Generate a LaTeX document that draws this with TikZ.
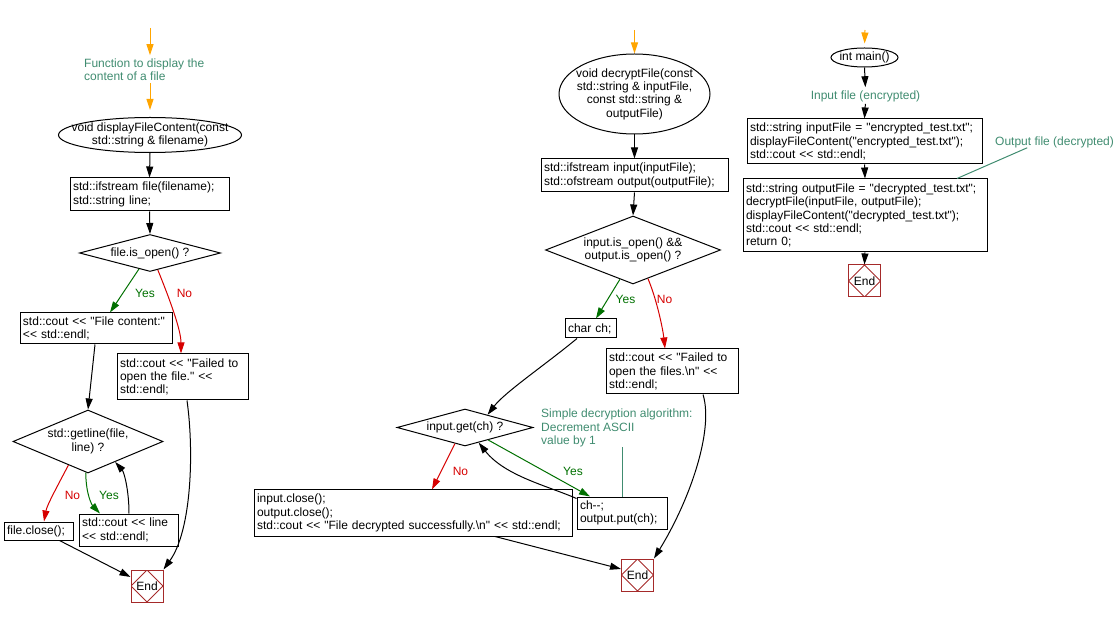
\documentclass[tikz,border=0pt]{standalone}
\usepackage{fontspec}
\newfontfamily\cfont{Liberation Sans}
\usetikzlibrary{shapes.geometric,arrows.meta,calc}
\definecolor{notec}{RGB}{64,140,112}
\definecolor{yesc}{RGB}{0,112,0}
\definecolor{noc}{RGB}{214,0,0}
\definecolor{orc}{RGB}{255,165,0}
\definecolor{endc}{RGB}{165,42,42}
\begin{document}
\begin{tikzpicture}[x=1pt,y=-1pt,
  every node/.style={font=\cfont\fontsize{12}{13.3}\selectfont, inner sep=0pt},
  box/.style={draw, line width=1pt, inner xsep=3pt, inner ysep=0pt, align=left},
  ell/.style={draw, ellipse, line width=1pt, inner sep=0pt},
  dia/.style={draw, diamond, line width=1pt, inner sep=0pt},
  lbl/.style={align=center},
  note/.style={text=notec, align=left},
  endbox/.style={draw=endc, line width=1pt, minimum width=32pt, minimum height=32pt,
    path picture={\draw[endc, line width=0.8pt] (path picture bounding box.north) -- (path picture bounding box.east) -- (path picture bounding box.south) -- (path picture bounding box.west) -- cycle;}},
  flow/.style={draw=black, line width=1pt, -{Triangle[length=11pt,width=7pt]}},
  startarrow/.style={draw=orc, line width=1pt, -{Triangle[length=11pt,width=7pt]}},
  yes/.style={flow, draw=yesc},
  no/.style={flow, draw=noc},
  noteline/.style={draw=notec, line width=1pt},
  yesl/.style={text=yesc},
  nol/.style={text=noc},
]
\useasboundingbox (0,0) rectangle (1117,617);

%% ---------------- left column ----------------
\coordinate (a1) at (150,28);
\node[note, anchor=west] (n1) at (84,69.5) {Function to display the\\content of a file};
\node[ell, minimum width=183pt, minimum height=35pt] (e1) at (150,135) {};
\node[lbl] (e1t) at (e1) {void displayFileContent(const\\std::string \& filename)};
\node[box, text width=153pt, minimum height=33pt] (b1) at (149.5,194.5) {std::ifstream file(filename);\\std::string line;};
\node[dia, minimum width=141pt, minimum height=37pt] (d1) at (150,253) {};
\node[lbl] (d1t) at (d1) {file.is\_open() ?};
\node[box, text width=146pt, minimum height=31pt] (b2) at (96,328.5) {std::cout << "File content:"\\<< std::endl;};
\node[box, text width=125pt, minimum height=46pt] (b3) at (182.5,377) {std::cout << "Failed to\\open the file." <<\\std::endl;};
\node[dia, minimum width=150pt, minimum height=63pt] (d2) at (88,441.5) {};
\node[lbl] (d2t) at (d2) {std::getline(file,\\line) ?};
\node[box, text width=63pt, minimum height=18pt] (b4) at (38.5,531) {file.close();};
\node[box, text width=93pt, minimum height=32pt] (b5) at (128.5,530) {std::cout << line\\<< std::endl;};
\node[endbox] (end1) at (147,586) {End};

\node[yesl] (ly1) at (145,293) {Yes};
\node[nol] (ln1) at (184.5,293) {No};
\node[nol] (ln2) at (72.5,495) {No};
\node[yesl] (ly2) at (109,495) {Yes};

\draw[startarrow, shorten >=3pt] (a1) -- (a1 |- n1.north);
\draw[startarrow, shorten <=2pt, shorten >=7pt] (a1 |- n1.south) -- (e1.north);
\draw[flow] (e1.south) -- (b1.north);
\draw[flow] (b1.south) -- (d1.north);
\draw[yes] ($(d1.south)!0.156!(d1.west)$) -- ([xshift=14pt]b2.north);
\draw[no] ($(d1.south)!0.11!(d1.east)$) .. controls (170,300) and (181,330) .. ([xshift=-1.5pt]b3.north);
\draw[flow] ([xshift=-1pt]b2.south) -- (d2.north);
\draw[no] ($(d2.south)!0.26!(d2.west)$) .. controls (58,485) and (47,505) .. ([xshift=5.5pt]b4.north);
\draw[yes] ($(d2.south)!0.03!(d2.west)$) .. controls (86,495) and (92,505) .. ([xshift=-28.5pt]b5.north);
\draw[flow] ([xshift=0.5pt]b5.north) .. controls (129,490) and (124,472) .. ($(d2.south)!0.36!(d2.east)$);
\draw[flow] ([xshift=-14pt]b4.south east) -- ([yshift=9pt]end1.west);
\draw[flow] ([xshift=4.5pt]b3.south) .. controls (194,450) and (192,530) .. (end1.north east);

%% ---------------- middle column ----------------
\coordinate (a2) at (634.5,30);
\node[ell, minimum width=151pt, minimum height=80pt] (e2) at (634.5,94) {};
\node[lbl] (e2t) at (e2) {void decryptFile(const\\std::string \& inputFile,\\const std::string \&\\outputFile)};
\node[box, text width=181pt, minimum height=33pt] (b6) at (634.5,175.5) {std::ifstream input(inputFile);\\std::ofstream output(outputFile);};
\node[dia, minimum width=175pt, minimum height=68pt] (d3) at (633,250) {};
\node[lbl] (d3t) at (d3) {input.is\_open() \&\&\\output.is\_open() ?};
\node[box, text width=45pt, minimum height=19pt] (b7) at (590.5,328.5) {char ch;};
\node[box, text width=126pt, minimum height=45pt] (b8) at (672,371.5) {std::cout << "Failed to\\open the files.\textbackslash n" <<\\std::endl;};
\node[dia, minimum width=136pt, minimum height=37pt] (d4) at (465,427.5) {};
\node[lbl] (d4t) at (d4) {input.get(ch) ?};
\node[note, anchor=west] (n2) at (541,428) {Simple decryption algorithm:\\Decrement ASCII\\value by 1};
\node[box, text width=312pt, minimum height=46pt] (b9) at (413,513) {input.close();\\output.close();\\std::cout << "File decrypted successfully.\textbackslash n" << std::endl;};
\node[box, text width=84pt, minimum height=32pt] (b10) at (622,513) {ch-{}-;\\output.put(ch);};
\node[endbox] (end2) at (637.5,575) {End};

\node[yesl] (ly3) at (625.5,299.5) {Yes};
\node[nol] (ln3) at (664.5,299.5) {No};
\node[nol] (ln4) at (460.5,471) {No};
\node[yesl] (ly4) at (573,471) {Yes};

\draw[startarrow] (a2) -- (e2.north);
\draw[flow] (e2.south) -- (b6.north);
\draw[flow] (b6.south) -- (d3.north);
\draw[yes] ($(d3.south)!0.149!(d3.west)$) -- ([xshift=5.5pt]b7.north);
\draw[no] ($(d3.south)!0.17!(d3.east)$) .. controls (657,300) and (663,330) .. ([xshift=-7pt]b8.north);
\draw[flow] ([xshift=-13.5pt]b7.south) .. controls (545,365) and (505,392) .. ($(d4.north)!0.33!(d4.east)$);
\draw[no] ($(d4.south)!0.147!(d4.west)$) -- ([xshift=19pt]b9.north);
\draw[yes] ($(d4.south)!0.34!(d4.east)$) -- ([xshift=-32pt]b10.north);
\draw[flow] ([yshift=-2pt]b10.north west) .. controls (548,486) and (505,476) .. ($(d4.south)!0.2!(d4.east)$);
\draw[noteline] (b10.north |- n2.south) -- (b10.north);
\draw[flow] ([xshift=82pt]b9.south) -- ([yshift=6pt]end2.west);
\draw[flow] ([xshift=31pt]b8.south) .. controls (714,430) and (690,500) .. (end2.north east);

%% ---------------- right column ----------------
\coordinate (a3) at (865,30);
\node[ell, minimum width=67pt, minimum height=19pt] (e3) at (864.5,57.5) {};
\node[lbl] (e3t) at (e3) {int main()};
\node[note, align=center] (n3) at (865.5,96) {Input file (encrypted)};
\node[box, text width=229pt, minimum height=45pt] (b11) at (864.5,141.5) {std::string inputFile = "encrypted\_test.txt";\\displayFileContent("encrypted\_test.txt");\\std::cout << std::endl;};
\node[note, anchor=west] (n4) at (995,142) {Output file (decrypted)};
\node[box, text width=238pt, minimum height=73pt] (b12) at (865,215.5) {std::string outputFile = "decrypted\_test.txt";\\decryptFile(inputFile, outputFile);\\displayFileContent("decrypted\_test.txt");\\std::cout << std::endl;\\return 0;};
\node[endbox] (end3) at (864.5,281) {End};

\draw[startarrow, shorten >=4pt] (a3) -- (e3.north);
\draw[flow, shorten >=3pt] (e3.south) -- (n3.north);
\draw[flow, shorten <=2pt] (n3.south) -- (b11.north);
\draw[flow] (b11.south) -- (b12.north);
\draw[noteline] ([xshift=92pt]b12.north) -- ($(n4.south west)!0.27!(n4.south east)$);
\draw[flow] (b12.south) -- (end3.north);
\end{tikzpicture}
\end{document}
